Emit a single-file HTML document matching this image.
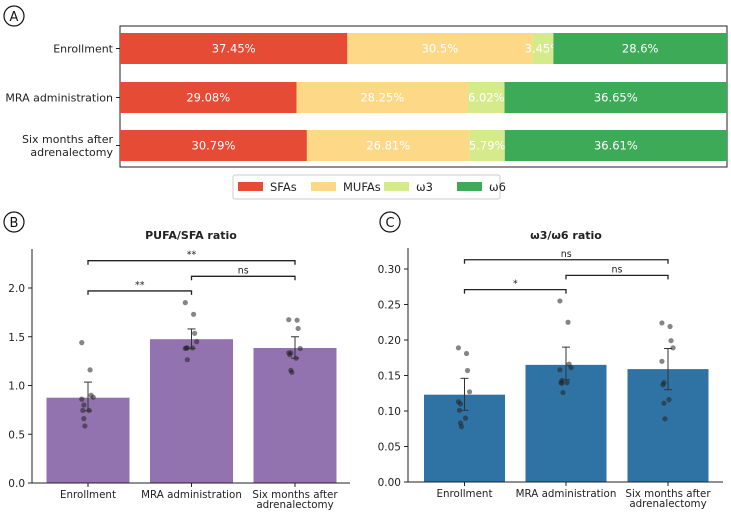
<!DOCTYPE html>
<html><head><meta charset="utf-8"><style>
body{margin:0;background:#fff;width:731px;height:510px;overflow:hidden}
svg text{font-family:"DejaVu Sans","Liberation Sans",sans-serif}
</style></head><body>
<svg id="fig" width="731" height="510"></svg>
<script>
const stackCats=["Enrollment","MRA administration","Six months after\nadrenalectomy"];
const sfa=[37.45,29.08,30.79];
const mufa=[30.5,28.25,26.81];
const w3=[3.45,6.02,5.79];
const w6=[28.6,36.65,36.61];
const groups=["Enrollment","MRA administration","Six months after\nadrenalectomy"];
const pufaMean=[0.875,1.475,1.385];
const pufaLo=[0.74,1.38,1.28];
const pufaHi=[1.035,1.58,1.50];
const pufaPts=[[1.44,1.16,0.90,0.88,0.86,0.80,0.745,0.745,0.66,0.585],[1.85,1.73,1.535,1.45,1.38,1.385,1.385,1.385,1.265],[1.675,1.67,1.585,1.38,1.335,1.335,1.315,1.28,1.155,1.135]];
const pufaTicks=[0,0.5,1.0,1.5,2.0];
const wMean=[0.123,0.165,0.159];
const wLo=[0.101,0.144,0.130];
const wHi=[0.146,0.190,0.188];
const wPts=[[0.189,0.181,0.157,0.127,0.113,0.110,0.101,0.090,0.083,0.078],[0.255,0.225,0.166,0.161,0.158,0.143,0.140,0.140,0.139,0.126],[0.224,0.219,0.199,0.189,0.170,0.140,0.137,0.116,0.111,0.089]];
const wTicks=[0,0.05,0.10,0.15,0.20,0.25,0.30];
const jit=[-0.3,0.1,0.15,0.25,-0.3,-0.2,-0.25,0.05,-0.2,-0.15];
const NS="http://www.w3.org/2000/svg";
const svg=document.getElementById('fig');
function el(t,a,p){const e=document.createElementNS(NS,t);for(const k in a)e.setAttribute(k,a[k]);(p||svg).appendChild(e);return e;}
function txt(x,y,s,a,p){const e=el('text',Object.assign({x:x,y:y,'font-size':11,fill:'#222'},a),p);e.textContent=s;return e;}
function circLabel(x,y,s,n){const g=el('g',{});el('circle',{cx:x,cy:y,r:10,fill:'none',stroke:'#111','stroke-width':1.2},g);txt(x,y+5,s,{'text-anchor':'middle','font-size':13,fill:'#111'},g);}
circLabel(14,16,'A','panel-a-label');circLabel(14,222,'B','panel-b-label');circLabel(390,222,'C','panel-c-label');
const ax0=120,ax1=727,rowY=[33,82,130],rowH=31;
const xs=v=>ax0+(ax1-ax0)*v/100;
const gA=el('g',{});
el('rect',{x:120,y:26,width:607,height:141,fill:'none',stroke:'#222','stroke-width':1},gA);
const series=[sfa,mufa,w3,w6],cols=['#e64c35','#fdd886','#d5ea8b','#3daa57'],snames=['sfa','mufa','omega3','omega6'];
stackCats.forEach((c,i)=>{let acc=0;series.forEach((s,j)=>{const x=xs(acc),w=xs(acc+s[i])-x;
const r=el('rect',{x:x,y:rowY[i],width:w,height:rowH,fill:cols[j]},gA);
txt(x+w/2,rowY[i]+rowH/2+4,s[i]+'%',{'text-anchor':'middle',fill:'#fff','font-size':11.5},gA);acc+=s[i];});
const lines=c.split('\n');el('line',{x1:116,x2:120,y1:rowY[i]+rowH/2,y2:rowY[i]+rowH/2,stroke:'#222'},gA);
lines.forEach((l,k)=>txt(113,rowY[i]+rowH/2+4+(k-(lines.length-1)/2)*13,l,{'text-anchor':'end','font-size':11},gA));});
const lg=el('g',{});
el('rect',{x:233,y:175,width:267,height:24,fill:'#fff',stroke:'#ccc',rx:2},lg);
['SFAs','MUFAs','ω3','ω6'].forEach((n,j)=>{const x=238+j*73;const e=el('g',{},lg);el('rect',{x:x,y:182,width:25,height:9,fill:cols[j]},e);txt(x+32,191,n,{'font-size':11.5},e);});
function panel(o){const g=el('g',{});
const ys=v=>o.y0-(o.y0-o.yTop)*v/o.ymaxV;
txt(o.tx,239,o.title,{'text-anchor':'middle','font-weight':'bold','font-size':11},g);
o.ticks.forEach(t=>{el('line',{x1:o.x0-4,x2:o.x0,y1:ys(t),y2:ys(t),stroke:'#222'},g);txt(o.x0-7,ys(t)+4,t.toFixed(o.dec),{'text-anchor':'end','font-size':10.5},g);});
o.means.forEach((m,i)=>{const c=o.cx[i];const b=el('rect',{x:c-o.bw/2,y:ys(m),width:o.bw,height:o.y0-ys(m),fill:o.color},g);
o.pts[i].forEach((p,k)=>{const d=el('circle',{cx:c+jit[k]*o.bw*0.25,cy:ys(p),r:2.6,fill:'#222','fill-opacity':0.55},g);});
el('line',{x1:c,x2:c,y1:ys(o.lo[i]),y2:ys(o.hi[i]),stroke:'#333','stroke-width':1},g);
[o.lo[i],o.hi[i]].forEach(v=>el('line',{x1:c-4,x2:c+4,y1:ys(v),y2:ys(v),stroke:'#333'},g));
el('line',{x1:c,x2:c,y1:o.y0,y2:o.y0+4,stroke:'#222'},g);
groups[i].split('\n').forEach((l,k)=>txt(c,o.y0+15+k*10,l,{'text-anchor':'middle','font-size':10.3},g));});
el('line',{x1:o.x0,x2:o.x0,y1:o.axTop,y2:o.y0,stroke:'#222'},g);
el('line',{x1:o.x0,x2:o.x1,y1:o.y0,y2:o.y0,stroke:'#222'},g);
o.br.forEach(b=>{const y=ys(b[2]),a=o.cx[b[0]],c=o.cx[b[1]];const p=el('path',{d:`M${a},${y+4}V${y}H${c}V${y+4}`,fill:'none',stroke:'#222','stroke-width':1.3},g);txt((a+c)/2,y-3,b[3],{'text-anchor':'middle','font-size':9.5},g);});}
panel({name:'pufa-sfa-chart',title:'PUFA/SFA ratio',tx:191,x0:32,x1:350,y0:483,yTop:288,ymaxV:2.0,axTop:249,cx:[88,191.5,295],bw:83,color:'#9372b0',means:pufaMean,lo:pufaLo,hi:pufaHi,pts:pufaPts,ticks:pufaTicks,dec:1,br:[[0,1,1.97,'**'],[1,2,2.12,'ns'],[0,2,2.28,'**']]});
panel({name:'omega3-omega6-chart',title:'ω3/ω6 ratio',tx:566,x0:408,x1:723,y0:482,yTop:269,ymaxV:0.30,axTop:248,cx:[464.5,566,668],bw:81,color:'#2f73a5',means:wMean,lo:wLo,hi:wHi,pts:wPts,ticks:wTicks,dec:2,br:[[0,1,0.271,'*'],[1,2,0.291,'ns'],[0,2,0.313,'ns']]});
</script>
</body></html>
